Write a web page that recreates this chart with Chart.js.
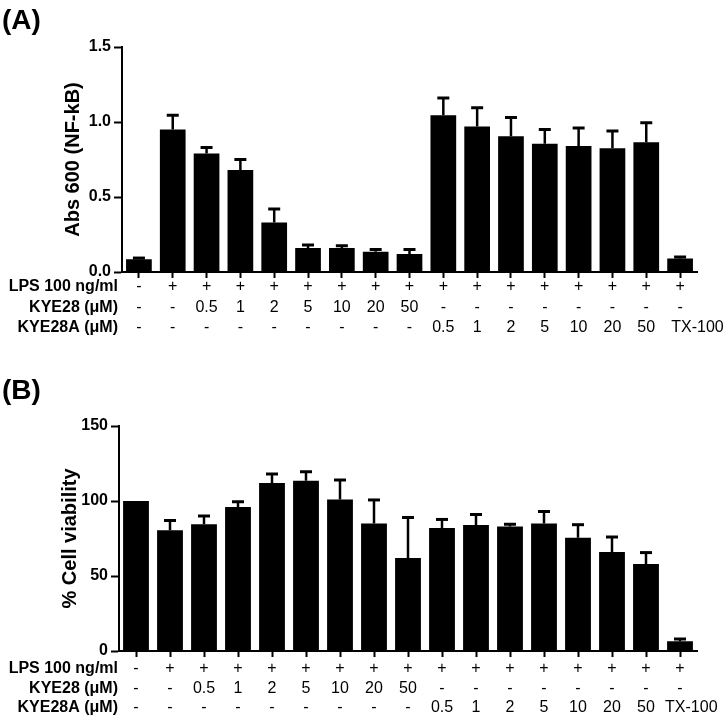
<!DOCTYPE html>
<html>
<head>
<meta charset="utf-8">
<script src="https://cdn.jsdelivr.net/npm/chart.js@4.4.1/dist/chart.umd.min.js"></script>
<style>
  html, body { margin: 0; padding: 0; background: #fff; }
  #wrap { position: relative; width: 725px; height: 715px; overflow: hidden; }
  canvas { position: absolute; left: 0; }
</style>
</head>
<body>
<div id="wrap">
  <canvas id="chartA" width="725" height="355" style="top:0px;width:725px;height:355px"></canvas>
  <canvas id="chartB" width="725" height="360" style="top:355px;width:725px;height:360px"></canvas>
</div>
<script>
// ---- data ----
const lpsRow    = ['-', '+', '+', '+', '+', '+', '+', '+', '+', '+', '+', '+', '+', '+', '+', '+', '+'];
const kye28Row  = ['-', '-', '0.5', '1', '2', '5', '10', '20', '50', '-', '-', '-', '-', '-', '-', '-', '-'];
const kye28aRow = ['-', '-', '-', '-', '-', '-', '-', '-', '-', '0.5', '1', '2', '5', '10', '20', '50', 'TX-100'];
const rowNames  = ['LPS 100 ng/ml', 'KYE28 (μM)', 'KYE28A (μM)'];

const nfkbMean = [0.085, 0.95, 0.79, 0.68, 0.33, 0.16, 0.16, 0.135, 0.12, 1.045, 0.97, 0.905, 0.855, 0.84, 0.825, 0.865, 0.09];
const nfkbErr  = [0.008, 0.095, 0.04, 0.07, 0.09, 0.02, 0.015, 0.015, 0.03, 0.115, 0.125, 0.125, 0.095, 0.12, 0.115, 0.13, 0.01];

const viabMean = [100, 80.5, 84.5, 96, 112, 113.5, 101, 85, 62, 82, 84, 83, 85, 75.5, 66, 58, 6.5];
const viabErr  = [0, 6.5, 5.5, 3.5, 6, 6, 13, 15.7, 27, 5.7, 7, 1.5, 8, 8.7, 10, 7.6, 1.5];

const nfkbTicks = [0, 0.5, 1.0, 1.5];
const viabTicks = [0, 50, 100, 150];

// ---- helpers ----
const FONT = '"Liberation Sans", Arial, Helvetica, sans-serif';
const tableRows = [lpsRow, kye28Row, kye28aRow];
const categoryLabels = lpsRow.map((v, i) => i + 1);

const errorBarPlugin = {
  id: 'errorBars',
  afterDatasetsDraw(chart, args, opts) {
    const ctx = chart.ctx;
    const meta = chart.getDatasetMeta(0);
    const y = chart.scales.y;
    const ds = chart.data.datasets[0];
    ctx.save();
    ctx.strokeStyle = '#000';
    ctx.lineCap = 'butt';
    meta.data.forEach((bar, i) => {
      const e = opts.errors[i];
      if (!e) return;
      const v = ds.data[i];
      const yTop = y.getPixelForValue(v + e);
      const yBase = y.getPixelForValue(v);
      ctx.lineWidth = 2.5;
      ctx.beginPath();
      ctx.moveTo(bar.x, yBase);
      ctx.lineTo(bar.x, yTop);
      ctx.stroke();
      ctx.lineWidth = 3;
      ctx.beginPath();
      ctx.moveTo(bar.x - 6, yTop);
      ctx.lineTo(bar.x + 6, yTop);
      ctx.stroke();
    });
    ctx.restore();
  }
};

const tablePlugin = {
  id: 'conditionTable',
  afterDraw(chart, args, opts) {
    const ctx = chart.ctx;
    const xs = chart.scales.x;
    const meta = chart.getDatasetMeta(0);
    const lh = opts.lineHeight;
    const y0 = xs.top + opts.firstOffset;
    ctx.save();
    ctx.fillStyle = '#000';
    ctx.textBaseline = 'middle';
    // row names
    ctx.font = 'bold 16px ' + FONT;
    ctx.textAlign = 'right';
    rowNames.forEach((name, r) => ctx.fillText(name, opts.labelRight, y0 + r * lh));
    // row values under each bar
    ctx.font = '16px ' + FONT;
    tableRows.forEach((row, r) => {
      row.forEach((txt, i) => {
        const w = ctx.measureText(txt).width;
        const x = xs.getPixelForValue(i);
        const bw = meta.data[i] ? meta.data[i].width : 26;
        if (w > 40) {
          // wide label: start it at the bar's left edge
          ctx.textAlign = 'left';
          ctx.fillText(txt, x - bw / 2 + opts.wideShift, y0 + r * lh);
        } else {
          ctx.textAlign = 'center';
          ctx.fillText(txt, x, y0 + r * lh);
        }
      });
    });
    // panel letter
    ctx.font = 'bold 28px ' + FONT;
    ctx.textAlign = 'left';
    ctx.fillText(opts.letter, 2, opts.letterY);
    ctx.restore();
  }
};

function makeChart(id, cfg) {
  return new Chart(document.getElementById(id), {
    type: 'bar',
    data: {
      labels: categoryLabels,
      datasets: [{
        data: cfg.mean,
        backgroundColor: '#000',
        borderWidth: 0,
        barPercentage: 0.76,
        categoryPercentage: 1.0
      }]
    },
    plugins: [errorBarPlugin, tablePlugin],
    options: {
      responsive: false,
      animation: false,
      devicePixelRatio: 1,
      layout: { padding: cfg.padding },
      plugins: {
        legend: { display: false },
        tooltip: { enabled: false },
        errorBars: { errors: cfg.err },
        conditionTable: { lineHeight: cfg.lineHeight, firstOffset: cfg.firstOffset, labelRight: 118, letter: cfg.letter, letterY: cfg.letterY, wideShift: cfg.wideShift }
      },
      scales: {
        x: {
          type: 'category',
          offset: true,
          border: { display: true, color: '#000', width: 2 },
          grid: { display: true, offset: false, drawOnChartArea: false, drawTicks: true, tickLength: 6, tickWidth: 2, tickColor: '#000' },
          ticks: { display: false, autoSkip: false },
          afterFit(scale) { scale.height = cfg.xHeight; }
        },
        y: {
          min: 0,
          max: cfg.max,
          border: { display: true, color: '#000', width: 2 },
          grid: { display: true, drawOnChartArea: false, drawTicks: true, tickLength: 8, tickWidth: 2, tickColor: '#000' },
          afterBuildTicks(scale) { scale.ticks = cfg.ticks.map(v => ({ value: v })); },
          ticks: {
            color: '#000',
            padding: 3,
            font: { family: FONT, size: 16, weight: 'bold' },
            callback: cfg.fmt
          },
          title: {
            display: true,
            text: cfg.title,
            color: '#000',
            font: { family: FONT, size: 20, weight: 'bold' },
            padding: { top: 0, bottom: 0 }
          },
          afterFit(scale) { scale.width = cfg.yWidth; }
        }
      }
    }
  });
}

makeChart('chartA', {
  mean: nfkbMean, err: nfkbErr, max: 1.5, ticks: nfkbTicks,
  fmt: v => Number(v).toFixed(1),
  title: 'Abs 600 (NF-kB)',
  padding: { left: 61, right: 28, top: 47, bottom: 8 },
  yWidth: 61, xHeight: 75, firstOffset: 15, lineHeight: 20.5,
  letter: '(A)', letterY: 21, wideShift: 4
});

makeChart('chartB', {
  mean: viabMean, err: viabErr, max: 150, ticks: viabTicks,
  fmt: v => String(v),
  title: '% Cell viability',
  padding: { left: 58, right: 28, top: 71, bottom: 4 },
  yWidth: 61, xHeight: 60, firstOffset: 18, lineHeight: 19.2,
  letter: '(B)', letterY: 36, wideShift: -2
});
</script>
</body>
</html>
